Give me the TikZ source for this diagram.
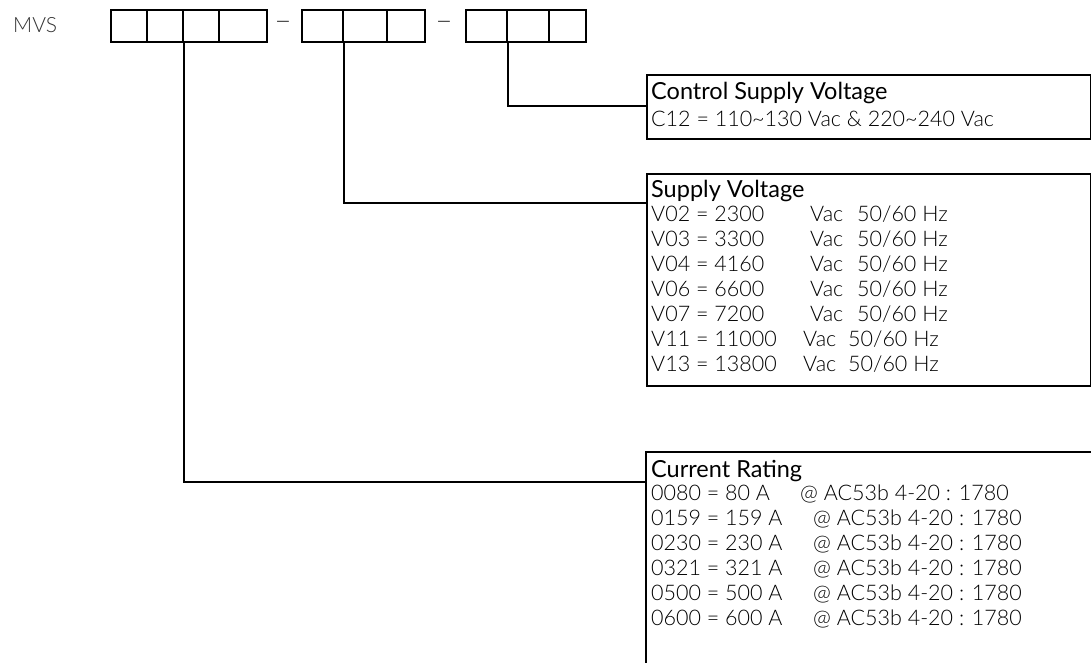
\documentclass[tikz,border=0pt]{standalone}
\usepackage{fontspec}
\setmainfont{Lato}
\newfontfamily\thinfont{Lato Light}
\begin{document}
\begin{tikzpicture}[x=1bp,y=-1bp,
  cell/.style={draw, line width=2bp, minimum height=32bp, inner sep=0pt, anchor=north west},
  conn/.style={draw, line width=1.7bp},
  infobox/.style={draw, line width=1.7bp, inner sep=0pt, anchor=north west},
  ttl/.style={anchor=base west, inner sep=0pt, font=\fontsize{23.5bp}{26bp}\selectfont},
  row/.style={anchor=base west, inner sep=0pt, font=\thinfont\fontsize{21.5bp}{25bp}\selectfont, text=black},
  dashsym/.style={inner sep=0pt, font=\thinfont\fontsize{30bp}{32bp}\selectfont, text=black!80}
]
\useasboundingbox (0,0) rectangle (1091,663);

% prefix
\node[anchor=base west, inner sep=0pt, font=\thinfont\fontsize{21bp}{24bp}\selectfont, text=black!80] (mvs) at (13,33) {MVS};

% group 1
\node[cell, minimum width=36bp] (c11) at (110,9) {};
\node[cell, minimum width=36bp] (c12) at (146,9) {};
\node[cell, minimum width=36bp] (c13) at (182,9) {};
\node[cell, minimum width=48bp] (c14) at (218,9) {};
\node[dashsym] (d1) at (283,26) {\textendash};
% group 2
\node[cell, minimum width=41bp] (c21) at (301,9) {};
\node[cell, minimum width=44bp] (c22) at (342,9) {};
\node[cell, minimum width=38bp] (c23) at (386,9) {};
\node[dashsym] (d2) at (444,26) {\textendash};
% group 3
\node[cell, minimum width=41bp] (c31) at (465,9) {};
\node[cell, minimum width=42bp] (c32) at (506,9) {};
\node[cell, minimum width=37bp] (c33) at (548,9) {};

% info boxes
\node[infobox, minimum width=444bp, minimum height=64bp] (ctl) at (646,74) {};
\node[infobox, minimum width=444bp, minimum height=212bp] (sup) at (646,173) {};
\node[anchor=north west, inner sep=0pt, minimum width=446bp, minimum height=212bp] (cur) at (646,452) {};
\draw[line width=1.7bp] (cur.south west) -- (cur.north west) -- (cur.north east);

% connector entry points
\coordinate (ctlin) at (646,106);
\coordinate (supin) at (646,203);
\coordinate (curin) at (646,482);
\draw[conn] (c31.south east) |- (ctlin);
\draw[conn] (c21.south east) |- (supin);
\draw[conn] (c12.south east) |- (curin);

% Control Supply Voltage
\node[ttl] (t1) at (651,99.5) {Control Supply Voltage};
\node[row] (r11) at (651,127) {C12 = 110\textasciitilde130 Vac \& 220\textasciitilde240 Vac};

% Supply Voltage
\node[ttl] (t2) at (651,197.5) {Supply Voltage};
\node[row] (r21) at (651,221) {\makebox[159bp][l]{V02 = 2300}\makebox[47bp][l]{Vac}50/60 Hz};
\node[row] (r22) at (651,246) {\makebox[159bp][l]{V03 = 3300}\makebox[47bp][l]{Vac}50/60 Hz};
\node[row] (r23) at (651,271) {\makebox[159bp][l]{V04 = 4160}\makebox[47bp][l]{Vac}50/60 Hz};
\node[row] (r24) at (651,296) {\makebox[159bp][l]{V06 = 6600}\makebox[47bp][l]{Vac}50/60 Hz};
\node[row] (r25) at (651,321) {\makebox[159bp][l]{V07 = 7200}\makebox[47bp][l]{Vac}50/60 Hz};
\node[row] (r26) at (651,346) {\makebox[152bp][l]{V11 = 11000}\makebox[45bp][l]{Vac}50/60 Hz};
\node[row] (r27) at (651,371) {\makebox[152bp][l]{V13 = 13800}\makebox[45bp][l]{Vac}50/60 Hz};

% Current Rating
\node[ttl] (t3) at (651,477.5) {Current Rating};
\node[row] (r31) at (651,500) {\makebox[149bp][l]{0080 = 80 A}@ AC53b 4-20 : 1780};
\node[row] (r32) at (651,525) {\makebox[162bp][l]{0159 = 159 A}@ AC53b 4-20 : 1780};
\node[row] (r33) at (651,550) {\makebox[162bp][l]{0230 = 230 A}@ AC53b 4-20 : 1780};
\node[row] (r34) at (651,575) {\makebox[162bp][l]{0321 = 321 A}@ AC53b 4-20 : 1780};
\node[row] (r35) at (651,600) {\makebox[162bp][l]{0500 = 500 A}@ AC53b 4-20 : 1780};
\node[row] (r36) at (651,625) {\makebox[162bp][l]{0600 = 600 A}@ AC53b 4-20 : 1780};
\end{tikzpicture}
\end{document}
